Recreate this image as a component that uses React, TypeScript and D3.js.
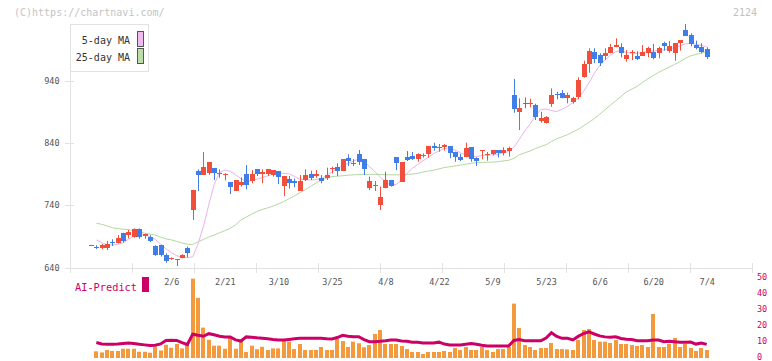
import React from 'react';
import * as d3 from 'd3';

const dates = [
  '1/16','1/17','1/20','1/21','1/22','1/23','1/24','1/27','1/28','1/29','1/30','1/31',
  '2/3','2/4','2/5','2/6','2/7','2/10','2/12','2/13','2/14','2/17','2/18','2/19','2/20','2/21','2/25','2/26','2/27','2/28',
  '3/3','3/4','3/5','3/6','3/7','3/10','3/11','3/12','3/13','3/14','3/17','3/18','3/19','3/21','3/24','3/25','3/26','3/27','3/28','3/31',
  '4/1','4/2','4/3','4/4','4/7','4/8','4/9','4/10','4/11','4/14','4/15','4/16','4/17','4/18','4/21','4/22','4/23','4/24','4/25','4/28','4/30',
  '5/1','5/2','5/7','5/8','5/9','5/12','5/13','5/14','5/15','5/16','5/19','5/20','5/21','5/22','5/23','5/26','5/27','5/28','5/29','5/30',
  '6/2','6/3','6/4','6/5','6/6','6/9','6/10','6/11','6/12','6/13','6/16','6/17','6/18','6/19','6/20','6/23','6/24','6/25','6/26','6/27','6/30',
  '7/1','7/2','7/3','7/4'
];

const openP = [
  676, 673.5, 671.2, 671, 681, 680, 695.2, 692.4, 689.7, 701.5,
  691, 688.7, 675, 676, 660.4, 654, 653.2, 656, 672, 732.5,
  795, 789, 792.3, 800, 790.5, 788.5, 777.4, 763, 773, 789.8,
  779, 798, 789.7, 789.7, 788.6, 795, 771, 781.7, 779.5, 763,
  780.6, 790, 787, 784.3, 784.3, 798.8, 802, 795, 816.4, 808.3,
  822.3, 814.3, 768.3, 771, 740.5, 767.3, 780.6, 817, 777.9, 817,
  819, 814.3, 818.5, 822, 835, 832, 834, 835.2, 826, 817,
  817, 833.5, 815.4, 827, 821.8, 822, 828.7, 823.4, 827.6, 916.9,
  890, 904, 903, 900.8, 875, 871.5, 902, 918.5, 920.6, 912.6,
  905.7, 914, 946.2, 966, 985.8, 981, 980, 983.7, 994.3, 993.4,
  974.6, 985, 979.4, 979.4, 984.7, 985.3, 983.7, 1000.8, 988, 984.7,
  1000.8, 1021, 1013, 997, 993.4, 990.6
];

const highP = [
  676.5, 676, 678, 682.8, 685.5, 692.4, 696, 701, 703, 703,
  694.5, 692, 676, 677, 663, 656.5, 654, 661.5, 673.7, 764.6,
  797.7, 825.5, 809.5, 800, 797.7, 791.4, 777.4, 780.6, 785, 804.7,
  796.6, 798, 797.7, 798, 796.6, 795, 787, 787, 783, 788.6,
  797.7, 795.5, 796.6, 788.6, 800.4, 802, 807.4, 814.3, 821.8, 814.3,
  828.7, 814.3, 786, 779, 770, 794, 780.6, 817, 809, 827,
  825.5, 823.4, 823.4, 835.2, 840.4, 838.3, 838.3, 835.2, 826, 822.3,
  840.4, 833.5, 817, 828.7, 825.5, 828.7, 828.7, 833, 834, 942.5,
  911.6, 913, 911, 903, 890, 883, 927.6, 922, 925, 920.6,
  914, 945.3, 972, 991.8, 991.8, 983.7, 991.8, 998.7, 1007.8, 999.8,
  989, 989, 987, 997, 994.3, 998.7, 994.3, 1002.4, 1003.4, 999.8,
  1005, 1030.7, 1015.8, 1004, 999.8, 993.4
];

const lowP = [
  676, 670, 669.5, 668.4, 674.8, 679, 680, 687, 688, 686.5,
  686.5, 681, 659, 658, 648, 652.5, 642.7, 655, 656.7, 716.5,
  763, 789, 789, 780.6, 784.3, 780, 758, 763, 770, 765.7,
  775.3, 787, 775.3, 787, 786, 774, 755, 767, 769, 763,
  779, 780.6, 784.3, 775.3, 780.6, 791, 787, 795, 803, 803,
  804.7, 788.6, 764.6, 763, 732.6, 767.3, 770, 796.6, 777.9, 811,
  812.7, 810, 816.4, 816.4, 827.6, 826, 827.6, 815.4, 810, 811,
  817, 810, 803, 813.8, 811.5, 820, 817, 820, 818, 888.5,
  860.8, 895.6, 897, 876.8, 872.5, 871, 898, 910, 911.6, 903.6,
  903, 910, 944.6, 952.6, 968, 963.4, 973, 983.7, 993.4, 977.3,
  970.3, 973, 973, 979.4, 977.3, 974, 975.7, 988, 984.8, 971.9,
  988, 1012, 995, 990, 983.7, 974.6
];

const closeP = [
  676.5, 672.5, 675.9, 677.5, 680.5, 687.6, 683.6, 698, 701.5, 689.7,
  694, 683.3, 660, 660, 651.2, 655, 653.8, 660.4, 664, 764.6,
  789, 801, 809.5, 791.4, 791.5, 789.5, 770, 780.6, 777.4, 772.6,
  790.2, 789.7, 794, 798, 796.6, 786, 787, 776.3, 776.3, 779,
  788.6, 784.3, 790.2, 779, 788.6, 799.8, 795.5, 814.3, 811.5, 805.8,
  810, 798.3, 779, 772, 752.9, 780.6, 771.5, 808.3, 809, 812.7,
  813.8, 822.3, 821, 835.2, 832, 833, 836.7, 823.4, 817, 812.7,
  831.4, 813.8, 811.5, 828, 822.8, 828.7, 824.4, 828.7, 831.4, 895,
  896, 903.2, 904, 881, 880.5, 881, 916.9, 917.5, 912.6, 917,
  911.6, 941, 966.6, 988, 975, 968.7, 984.8, 994.3, 997, 983.7,
  981, 986, 975, 986.3, 991.8, 976.8, 991.8, 995.5, 995.5, 999.8,
  1005, 1012, 998.7, 992.7, 986.3, 978.3
];

const ma5 = [
  null, 684.4, 680.1, 677, 676.4, 677.5, 679.9, 685.7, 690.3, 692.9,
  692.6, 689.9, 685.4, 677.8, 670.3, 664.4, 659.4, 656.7, 656.2, 657.5,
  678.3, 706.4, 741, 773.2, 792.3, 796.6, 794.6, 789.1, 782.9, 778.2,
  779.6, 782.1, 784.5, 787.3, 789.7, 791.7, 791.5, 790.4, 786.4, 781.9,
  781.1, 780.6, 781.3, 782.9, 788.1, 793.4, 799, 803.5, 807.1, 810.8,
  814.4, 810.1, 802.4, 794.2, 785.9, 777.2, 772.4, 773.6, 780.3, 791,
  799.2, 805.3, 811.4, 817, 822.9, 827.3, 831.1, 830.2, 828.7, 824.4,
  820.5, 819.1, 818.3, 819.7, 820.7, 820.7, 821.8, 824.1, 826.3, 833,
  845.7, 858.9, 870.1, 882.9, 893.6, 894.4, 892, 890.4, 894, 898.8,
  904.7, 911.8, 922.7, 936.4, 951.4, 964, 973, 980.7, 986.3, 988.4,
  984.9, 984.2, 983.8, 985.2, 986.5, 987.3, 988.4, 989.5, 991, 992.7,
  995.5, 999, 999.6, 998.2, 996.6, 994
];

const ma25 = [
  null, 711.2, 709.6, 706.9, 704, 702.7, 701.7, 700.8, 699.6, 697.6,
  695.3, 693.9, 692.3, 689.1, 686.2, 684.6, 682.3, 679.6, 677.7, 677.2,
  681.5, 685.2, 689.1, 692.4, 696, 699.3, 703.3, 708.6, 716.5, 721.3,
  725.8, 730.1, 733.5, 735.9, 738.8, 742.3, 746.1, 750.6, 755.3, 760.1,
  765.2, 770.3, 775.5, 780.3, 783.8, 786.1, 786.7, 787.5, 788.3, 788.9,
  789.6, 789.7, 789.7, 789.7, 789.4, 789.1, 788.9, 788.8, 788.9, 789.7,
  790.1, 791.2, 793.3, 794.9, 796.3, 798.4, 800.7, 801.9, 803.1, 804.5,
  805.9, 807.4, 808.3, 808.8, 809.1, 809.3, 810.1, 811.2, 812.2, 815.4,
  821.3, 824.1, 827.1, 831, 834.3, 837.2, 842.3, 846.7, 849.9, 853.4,
  857.7, 861.7, 867.7, 873, 879.1, 885.9, 893.3, 900.4, 907.6, 914.6,
  921.9, 926.2, 930.7, 937.1, 942.7, 948, 953.1, 957.5, 961.6, 966,
  970.4, 975.7, 979.7, 982, 984.2, 986.3
];

const aiPredict = [
  null, 9.7, 8.8, 8.6, 8.6, 8.8, 9.1, 9.4, 9.0, 8.6,
  8.2, 7.8, 8, 8.8, 11, 11.1, 11, 9.6, 8.4, 14.9,
  14.2, 13.6, 15.2, 14.5, 13.6, 13.2, 13.2, 11.3, 10.6, 13.2,
  13, 12.6, 12.4, 12, 11.6, 11.3, 11.25, 11.6, 12, 12.3,
  12.3, 12.3, 12.3, 12.3, 12, 11.9, 12.8, 14.2, 13.6, 13.3,
  13.3, 11.5, 10.2, 10.2, 10.4, 10.8, 11.3, 11.3, 10.6, 10.4,
  9.9, 9.9, 9.4, 9.4, 9.4, 9.9, 8.7, 8.1, 8.1, 8.1,
  8.6, 9.1, 8.6, 8, 7.5, 7.5, 7.5, 7.5, 7.5, 11,
  11.5, 10.8, 10.8, 10.8, 10.8, 12.5, 15.8, 13.5, 12.3, 12.3,
  11.3, 13.5, 15.3, 16.4, 15, 13.8, 13.2, 12.9, 13.3, 12.2,
  11.7, 11.5, 10.8, 10.8, 10.8, 11.25, 11.25, 10.2, 10.4, 10.2,
  9.8, 9.9, 10, 8.7, 9.4, 8.5
];

const volume = [
  null, 4.2, 3.5, 5, 4.4, 4.4, 5.8, 5.8, 5.8, 3.9,
  3.9, 3.3, 7.1, 4.7, 8.3, 6.4, 8.8, 6, 9, 49.6,
  37.6, 19, 11.4, 7.7, 7.7, 5.8, 12.7, 5.8, 10.7, 3.7,
  7.7, 5.5, 7, 5, 6, 6, 10.6, 10.2, 5.6, 8.75,
  5, 5, 5, 6.9, 5, 5, 11.9, 10.6, 6.9, 10.2,
  9.2, 6.7, 8.1, 15, 17.5, 8.75, 8.75, 8.75, 7.5, 5.6,
  3.75, 3.75, 2.5, 3.75, 3.75, 3.75, 4.4, 3.75, 6.25, 5,
  6.9, 5, 5, 6.9, 5, 3.75, 5.6, 5.6, 6.9, 34,
  18.75, 8.1, 6.9, 5, 6.25, 6.25, 9.4, 5.6, 5.6, 5.4,
  5, 11.25, 17.5, 18.1, 11.25, 10.2, 10.2, 9.4, 11.25, 8.75,
  8.75, 8.1, 7.5, 8.1, 6.9, 27.5, 6.9, 6.9, 8.75, 12.5,
  6.9, 8.75, 6.25, 4.4, 6.25, 5
];

const dateTickLabels = ['2/6', '2/21', '3/10', '3/25', '4/8', '4/22', '5/9', '5/23', '6/6', '6/20', '7/4'];
const priceTicks = [640, 740, 840, 940];
const subTicks = [0, 10, 20, 30, 40, 50];
const legendItems = [
  { label: '5-day MA', color: '#eebbee' },
  { label: '25-day MA', color: '#bbddaa' },
];

const UP = '#f24e3c';
const DOWN = '#3f7de8';
const MONO = '"DejaVu Sans Mono", "Liberation Mono", monospace';

export default function App() {
  const W = 772;
  const H = 361;
  const plotLeft = 70.5;
  const plotRight = 752;
  const axisY = 268;

  const x = d3.scalePoint<string>().domain(dates).range([91, 706.7]);
  const y = d3.scaleLinear().domain([640, 940]).range([267.7, 80.6]);
  const ySub = d3.scaleLinear().domain([0, 50]).range([358, 278]);

  const cx = (i: number) => Math.round(x(dates[i]) as number);

  const maLine = d3
    .line<number | null>()
    .defined((d) => d !== null)
    .x((_, i) => x(dates[i]) as number)
    .y((d) => y(d as number));

  const aiLine = d3
    .line<number | null>()
    .defined((d) => d !== null)
    .x((_, i) => x(dates[i]) as number)
    .y((d) => ySub(d as number));

  const gridX = d3.range(12).map((k) => plotLeft - 0.5 + ((plotRight - plotLeft + 0.5) * k) / 11);

  return (
    <svg
      width={W}
      height={H}
      viewBox={`0 0 ${W} ${H}`}
      style={{ position: 'absolute', left: 0, top: 0, background: '#fff' }}
      fontFamily={MONO}
    >
      <rect x={0} y={0} width={W} height={H} fill="#fff" />
      <text x={14} y={16} fontSize={10} fill="#c4c4c4">(C)https://chartnavi.com/</text>
      <text x={757} y={16} fontSize={10} fill="#c0c0c0" textAnchor="end">2124</text>

      {/* axes */}
      <line x1={plotLeft} y1={24} x2={plotLeft} y2={axisY} stroke="#e2e2e2" />
      <line x1={plotLeft} y1={axisY + 0.5} x2={plotRight} y2={axisY + 0.5} stroke="#e2e2e2" />
      {gridX.map((gx, k) => (
        <line key={k} x1={Math.round(gx) + 0.5} y1={263} x2={Math.round(gx) + 0.5} y2={273} stroke="#e2e2e2" />
      ))}
      {priceTicks.map((p) => (
        <g key={p}>
          <line x1={65} y1={Math.round(y(p)) + 0.5} x2={74} y2={Math.round(y(p)) + 0.5} stroke="#e2e2e2" />
          <text x={59.5} y={y(p) + 3} fontSize={8.5} fill="#555" textAnchor="end">{p}</text>
        </g>
      ))}

      {/* moving averages */}
      <path d={maLine(ma25) || ''} fill="none" stroke="#b2d9a2" strokeWidth={1} />
      <path d={maLine(ma5) || ''} fill="none" stroke="#e8b4e8" strokeWidth={1} />

      {/* candles */}
      {dates.map((d, i) => {
        const o = openP[i];
        const c = closeP[i];
        const color = c >= o ? UP : DOWN;
        const xc = cx(i);
        const top = Math.round(y(Math.max(o, c)));
        const bot = Math.round(y(Math.min(o, c)));
        return (
          <g key={d}>
            <line x1={xc + 0.5} x2={xc + 0.5} y1={y(highP[i])} y2={y(lowP[i])} stroke={color} strokeWidth={1} />
            <rect x={xc - 2} y={top} width={5} height={Math.max(1, bot - top)} fill={color} />
          </g>
        );
      })}

      {/* legend */}
      <rect x={70.5} y={24.5} width={78} height={47} fill="#fff" stroke="#e2e2e2" />
      {legendItems.map((it, k) => (
        <g key={it.label}>
          <text x={130} y={44 + k * 17} fontSize={10} fill="#333" textAnchor="end">{it.label}</text>
          <rect x={137.5} y={31.5 + k * 17} width={6} height={15} fill={it.color} stroke="#555" />
        </g>
      ))}

      {/* date labels */}
      {dateTickLabels.map((t) => (
        <text key={t} x={(x(t) as number) + 0.5} y={285} fontSize={8.5} fill="#555" textAnchor="middle">{t}</text>
      ))}

      {/* lower panel */}
      <text x={75} y={291} fontSize={10.3} fill="#cc0066">AI-Predict</text>
      <rect x={142} y={277} width={7} height={15} fill="#cc0066" />
      {volume.map((v, i) =>
        v === null ? null : (
          <rect key={i} x={cx(i) - 2} y={ySub(v)} width={4} height={ySub(0) - ySub(v)} fill="#f39a3e" />
        )
      )}
      <path d={aiLine(aiPredict) || ''} fill="none" stroke="#cc0066" strokeWidth={3} />
      {subTicks.map((t) => (
        <text key={t} x={757} y={ySub(t) + 2.4} fontSize={8.5} fill="#cc0066">{t}</text>
      ))}
    </svg>
  );
}
